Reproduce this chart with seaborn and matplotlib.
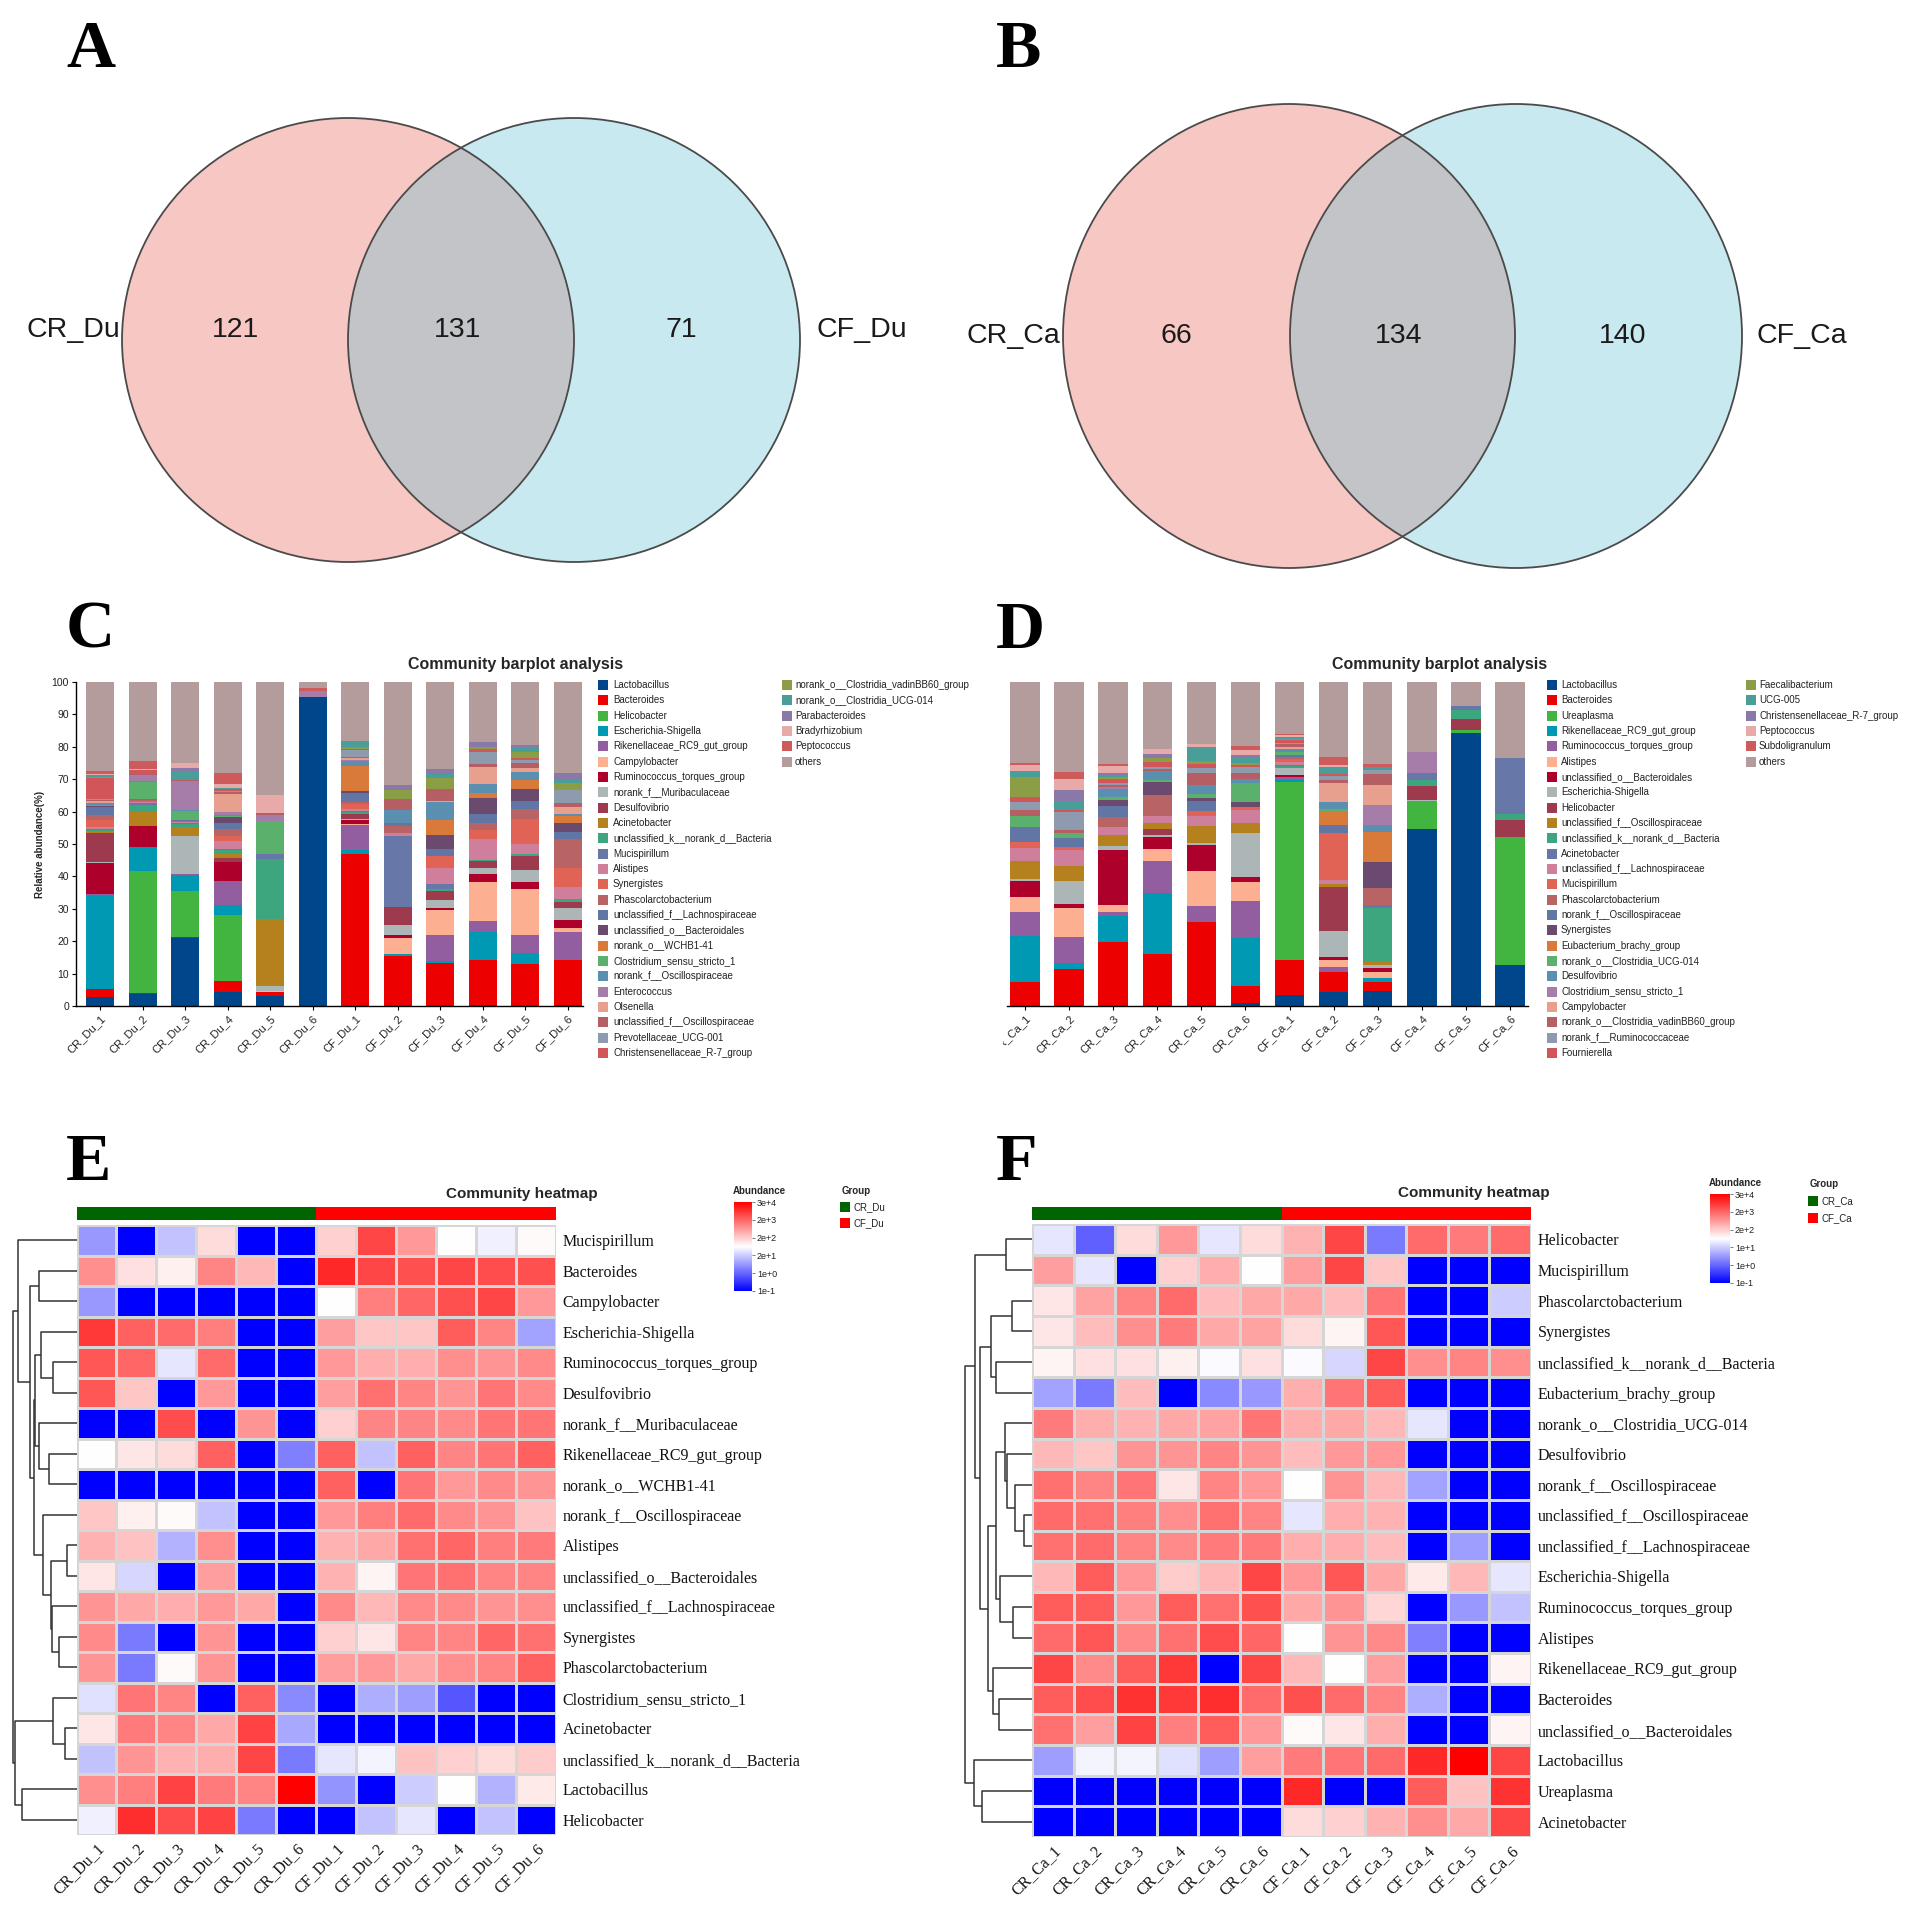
import numpy as np
import pandas as pd
import matplotlib
matplotlib.use("Agg")
import matplotlib.pyplot as plt
import seaborn as sns
from matplotlib.patches import Ellipse, Rectangle
from matplotlib.colors import LinearSegmentedColormap, ListedColormap
from matplotlib.transforms import Bbox, TransformedBbox

# ---------------------------------------------------------------- data
venn_A_sets = ["CR_Du", "CF_Du"]
venn_A_counts = [121, 131, 71]
venn_B_sets = ["CR_Ca", "CF_Ca"]
venn_B_counts = [66, 134, 140]

C_taxa = ["Lactobacillus", "Bacteroides", "Helicobacter", "Escherichia-Shigella",
          "Rikenellaceae_RC9_gut_group", "Campylobacter", "Ruminococcus_torques_group",
          "norank_f__Muribaculaceae", "Desulfovibrio", "Acinetobacter",
          "unclassified_k__norank_d__Bacteria", "Mucispirillum", "Alistipes", "Synergistes",
          "Phascolarctobacterium", "unclassified_f__Lachnospiraceae",
          "unclassified_o__Bacteroidales", "norank_o__WCHB1-41", "Clostridium_sensu_stricto_1",
          "norank_f__Oscillospiraceae", "Enterococcus", "Olsenella",
          "unclassified_f__Oscillospiraceae", "Prevotellaceae_UCG-001",
          "Christensenellaceae_R-7_group", "norank_o__Clostridia_vadinBB60_group",
          "norank_o__Clostridia_UCG-014", "Parabacteroides", "Bradyrhizobium", "Peptococcus",
          "others"]
C_samples = ["CR_Du_1", "CR_Du_2", "CR_Du_3", "CR_Du_4", "CR_Du_5", "CR_Du_6",
             "CF_Du_1", "CF_Du_2", "CF_Du_3", "CF_Du_4", "CF_Du_5", "CF_Du_6"]
C_values = [
    [2.9, 2.5, 0, 28.8, 0.3, 0.2, 9.5, 0.2, 9.0, 0.5, 0.3, 0.3, 0.8, 2.0, 1.5, 2.5, 0.3, 0.2, 0.3, 0.5, 0.2, 0.5, 0.3, 0.3, 6.6, 0.2, 0.4, 0.2, 0.3, 1.0, 27.4],
    [3.8, 0.3, 37.5, 7.6, 0, 0, 6.3, 0, 0, 4.3, 2.2, 0.8, 0.3, 0.2, 0.2, 0.3, 0, 0, 5.3, 0.2, 2.0, 0, 0.3, 0, 1.2, 0, 0, 0, 0.5, 2.2, 24.5],
    [21.0, 0.3, 14.2, 4.8, 0.5, 0, 0, 11.6, 0, 2.9, 1.0, 0.3, 0.3, 0, 0.2, 0.2, 0, 0, 3.0, 0.3, 8.8, 0, 0.5, 0, 0, 0, 2.3, 1.2, 1.5, 0, 25.1],
    [4.2, 3.5, 20.3, 3.3, 7.2, 0, 5.8, 0, 1.5, 1.2, 1.0, 0.5, 2.3, 1.7, 2.0, 2.0, 1.7, 0, 0.3, 0.3, 1.0, 5.6, 0.6, 0.3, 0.7, 0, 0.3, 0, 1.3, 3.2, 28.2],
    [3.2, 1.0, 0, 0, 0, 0.3, 0, 1.7, 0, 20.5, 18.8, 1.3, 0, 0, 0, 0, 0, 0, 10.2, 0, 2.0, 0, 0.5, 0, 0, 0, 0, 0, 5.7, 0, 34.8],
    [95.3, 0, 0, 0, 0, 0, 0, 0, 0, 0, 0, 0, 0, 0, 0, 0, 0, 0, 0, 0, 2.0, 0, 0, 0, 0, 0, 0, 0, 0, 0.9, 1.8],
    [0, 47.0, 0, 1.3, 7.5, 0.3, 1.4, 0.3, 1.5, 0, 0.5, 0.5, 0.5, 1.5, 0.7, 2.8, 0.5, 7.7, 0, 1.5, 0.5, 0.5, 0.5, 2.0, 0.3, 0.7, 1.7, 0, 0, 0, 18.3],
    [0, 15.5, 0, 0.7, 0, 4.8, 1.0, 3.0, 5.5, 0, 0, 22.0, 1.0, 0, 2.0, 1.0, 0, 0, 0, 4.0, 0, 0, 3.3, 0, 0, 3.0, 0, 1.5, 0, 0, 31.7],
    [0, 13.3, 0, 0.5, 8.2, 7.5, 0.8, 2.4, 2.8, 0, 0.5, 1.8, 4.9, 3.6, 0, 2.2, 4.3, 4.5, 0, 5.7, 0, 0.3, 3.7, 0, 0, 3.5, 1.0, 1.5, 0, 0, 27.0],
    [0.3, 14.0, 0, 8.5, 3.4, 12.0, 2.6, 1.9, 1.9, 0, 0.6, 0, 6.4, 2.6, 2.2, 2.8, 5.0, 1.6, 0, 2.6, 0, 5.4, 0.9, 3.7, 1.0, 0.6, 0, 1.5, 0, 0, 18.5],
    [0, 13.0, 0, 3.5, 5.3, 14.4, 2.0, 3.8, 4.4, 0, 0.6, 0, 3.0, 7.8, 3.0, 2.5, 3.7, 2.8, 0, 2.4, 0, 1.3, 1.5, 1.0, 0.5, 1.8, 1.7, 0.5, 0, 0, 19.5],
    [0.4, 13.8, 0, 0, 8.6, 1.2, 2.6, 3.6, 2.0, 0, 0.8, 0, 3.6, 6.0, 9.0, 2.2, 2.6, 2.1, 0, 0.8, 0, 2.0, 1.5, 4.0, 0, 2.0, 1.4, 1.6, 0, 0, 28.2],
]

D_taxa = ["Lactobacillus", "Bacteroides", "Ureaplasma", "Rikenellaceae_RC9_gut_group",
          "Ruminococcus_torques_group", "Alistipes", "unclassified_o__Bacteroidales",
          "Escherichia-Shigella", "Helicobacter", "unclassified_f__Oscillospiraceae",
          "unclassified_k__norank_d__Bacteria", "Acinetobacter",
          "unclassified_f__Lachnospiraceae", "Mucispirillum", "Phascolarctobacterium",
          "norank_f__Oscillospiraceae", "Synergistes", "Eubacterium_brachy_group",
          "norank_o__Clostridia_UCG-014", "Desulfovibrio", "Clostridium_sensu_stricto_1",
          "Campylobacter", "norank_o__Clostridia_vadinBB60_group", "norank_f__Ruminococcaceae",
          "Fournierella", "Faecalibacterium", "UCG-005", "Christensenellaceae_R-7_group",
          "Peptococcus", "Subdoligranulum", "others"]
D_samples = ["CR_Ca_1", "CR_Ca_2", "CR_Ca_3", "CR_Ca_4", "CR_Ca_5", "CR_Ca_6",
             "CF_Ca_1", "CF_Ca_2", "CF_Ca_3", "CF_Ca_4", "CF_Ca_5", "CF_Ca_6"]
D_values = [
    [0, 7.5, 0, 14.1, 7.5, 4.6, 4.8, 0.8, 0, 5.4, 0, 0, 4.2, 1.8, 0, 4.4, 0, 0, 3.6, 0, 0, 0, 1.9, 2.4, 1.5, 6.2, 1.9, 0, 1.9, 0.6, 24.9],
    [0, 11.3, 0, 2.1, 7.8, 8.9, 1.3, 7.1, 0, 4.8, 0, 0, 5.0, 0.8, 0, 2.6, 0.3, 0, 1.4, 0, 0, 0, 0.9, 5.6, 0.7, 0, 2.4, 3.8, 3.4, 2.1, 27.7],
    [0, 19.6, 0, 8.3, 1.2, 2.2, 16.8, 1.3, 0, 3.5, 0, 0, 2.4, 0, 3.1, 3.4, 1.7, 0.5, 0.5, 2.6, 0.6, 0, 0.5, 0.5, 1.5, 0.4, 0.8, 0.5, 2.1, 0.8, 25.2],
    [0, 15.9, 0, 19.1, 9.8, 3.8, 3.6, 0.7, 1.6, 2.0, 0, 0, 2.1, 0, 6.5, 0, 3.9, 0, 0.6, 2.9, 0, 0, 0.7, 0.7, 1.5, 1.0, 0.5, 1.0, 1.5, 0, 20.6],
    [0, 26.0, 0, 0, 4.8, 10.9, 7.9, 0.8, 0, 5.1, 0, 0, 3.1, 1.5, 0, 3.1, 1.0, 0, 1.1, 3.0, 0, 0, 3.6, 1.7, 1.2, 0.8, 4.4, 0, 0.8, 0, 19.2],
    [1.0, 5.3, 0, 14.8, 11.4, 5.7, 1.5, 13.7, 0, 3.1, 0, 0, 3.9, 1.1, 0, 0, 1.5, 0, 5.7, 1.5, 0, 0, 1.7, 1.9, 0.6, 0.6, 1.5, 1.0, 1.5, 1.1, 19.9],
    [3.4, 10.8, 54.8, 0.7, 1.0, 0, 0.7, 2.1, 0, 0, 0.5, 0.5, 0.7, 1.0, 0.8, 0.5, 0, 0, 1.0, 0.8, 0, 0.5, 1.0, 0.5, 0.7, 0.5, 0.6, 0, 0.5, 0.4, 16.0],
    [4.4, 6.2, 0, 0, 1.5, 2.1, 0.8, 8.1, 13.7, 1.0, 0, 0, 1.0, 14.6, 0, 2.4, 0, 4.3, 0.8, 2.1, 0, 5.7, 1.0, 1.2, 0.8, 0, 2.1, 0, 0.5, 2.6, 23.1],
    [4.7, 2.6, 0, 1.2, 0, 2.1, 1.0, 1.0, 0, 1.1, 16.4, 1.0, 0, 0, 5.2, 0, 8.2, 9.3, 0, 2.0, 6.2, 6.1, 3.6, 1.1, 0, 0, 1.0, 0, 0, 0.8, 25.4],
    [54.5, 0, 8.8, 0, 0, 0, 0, 0.4, 4.1, 0, 2.1, 2.0, 0, 0, 0, 0, 0, 0, 0, 0, 6.5, 0, 0, 0, 0, 0, 0, 0, 0, 0, 21.6],
    [84.3, 0, 1.0, 0, 0, 0, 0, 0, 3.4, 0, 2.8, 1.0, 0, 0, 0, 0, 0, 0, 0, 0, 0, 0, 0, 0, 0, 0, 0, 0, 0, 0, 7.5],
    [12.6, 0, 39.6, 0, 0, 0, 0, 0, 5.1, 0, 1.9, 17.2, 0, 0, 0, 0, 0, 0, 0, 0, 0, 0, 0, 0, 0, 0, 0, 0, 0, 0, 23.6],
]

# heatmap colour level (0 = 1e-1 ... 5 = 3e+4, evenly spaced colour-bar ticks)
abund_ticks = ["1e-1", "1e+0", "2e+1", "2e+2", "2e+3", "3e+4"]
abund_ticks_F = ["1e-1", "1e+0", "1e+1", "2e+2", "2e+3", "3e+4"]

E_rows = ["Mucispirillum", "Bacteroides", "Campylobacter", "Escherichia-Shigella",
          "Ruminococcus_torques_group", "Desulfovibrio", "norank_f__Muribaculaceae",
          "Rikenellaceae_RC9_gut_group", "norank_o__WCHB1-41", "norank_f__Oscillospiraceae",
          "Alistipes", "unclassified_o__Bacteroidales", "unclassified_f__Lachnospiraceae",
          "Synergistes", "Phascolarctobacterium", "Clostridium_sensu_stricto_1",
          "Acinetobacter", "unclassified_k__norank_d__Bacteria", "Lactobacillus", "Helicobacter"]
E_values = [
    [1.5, 0, 1.9, 2.85, 0, 0, 2.95, 4.3, 3.5, 2.5, 2.35, 2.55],
    [3.6, 2.8, 2.65, 3.7, 3.2, 0, 4.6, 4.3, 4.2, 4.3, 4.25, 4.2],
    [1.5, 0, 0, 0, 0, 0, 2.5, 3.75, 4.0, 4.2, 4.3, 3.5],
    [4.45, 4.05, 3.95, 3.75, 0, 0, 3.45, 3.05, 3.05, 4.1, 3.7, 1.6],
    [4.15, 4.0, 2.25, 3.95, 0, 0, 3.5, 3.3, 3.3, 3.6, 3.55, 3.65],
    [4.15, 3.05, 0, 3.5, 0, 0, 3.45, 3.9, 3.7, 3.55, 3.85, 3.65],
    [0, 0, 4.25, 0, 3.55, 0, 2.95, 3.7, 3.7, 3.65, 3.85, 3.85],
    [2.5, 2.75, 2.85, 4.05, 0, 1.25, 4.05, 1.9, 4.05, 3.7, 3.85, 4.05],
    [0, 0, 0, 0, 0, 0, 4.05, 0, 3.85, 3.5, 3.65, 3.55],
    [3.05, 2.65, 2.55, 1.9, 0, 0, 3.5, 3.75, 3.95, 3.65, 3.55, 3.1],
    [3.25, 3.1, 1.75, 3.6, 0, 0, 3.25, 3.35, 3.9, 4.0, 3.75, 3.8],
    [2.75, 2.1, 0, 3.45, 0, 0, 3.25, 2.6, 3.85, 3.9, 3.7, 3.7],
    [3.55, 3.35, 3.3, 3.5, 3.35, 0, 3.65, 3.2, 3.65, 3.65, 3.55, 3.6],
    [3.65, 1.2, 0, 3.55, 0, 0, 2.95, 2.75, 3.7, 3.7, 4.0, 3.9],
    [3.55, 1.2, 2.55, 3.55, 0, 0, 3.45, 3.5, 3.35, 3.6, 3.7, 4.05],
    [2.2, 3.85, 3.7, 0, 4.05, 1.35, 0, 1.7, 1.55, 0.85, 0, 0],
    [2.75, 3.8, 3.7, 3.35, 4.35, 1.65, 0, 0, 0, 0, 0, 0],
    [1.9, 3.55, 3.25, 3.3, 4.3, 1.2, 2.25, 2.4, 3.1, 2.95, 2.85, 3.0],
    [3.6, 3.75, 4.35, 3.8, 3.7, 5.0, 1.45, 0, 2.0, 2.5, 1.75, 2.7],
    [2.35, 4.55, 4.25, 4.35, 1.2, 0, 0, 1.9, 2.25, 0, 1.9, 0],
]
F_rows = ["Helicobacter", "Mucispirillum", "Phascolarctobacterium", "Synergistes",
          "unclassified_k__norank_d__Bacteria", "Eubacterium_brachy_group",
          "norank_o__Clostridia_UCG-014", "Desulfovibrio", "norank_f__Oscillospiraceae",
          "unclassified_f__Oscillospiraceae", "unclassified_f__Lachnospiraceae",
          "Escherichia-Shigella", "Ruminococcus_torques_group", "Alistipes",
          "Rikenellaceae_RC9_gut_group", "Bacteroides", "unclassified_o__Bacteroidales",
          "Lactobacillus", "Ureaplasma", "Acinetobacter"]
F_values = [
    [2.25, 0.95, 2.85, 3.5, 2.25, 2.85, 3.25, 4.3, 1.2, 3.95, 3.8, 3.95],
    [3.45, 2.25, 0, 2.95, 3.3, 2.5, 3.45, 4.3, 3.05, 0, 0, 0],
    [2.75, 3.4, 3.7, 3.95, 3.15, 3.35, 3.35, 3.15, 3.85, 0, 0, 2.0],
    [2.75, 3.15, 3.6, 3.8, 3.35, 3.4, 2.85, 2.6, 4.15, 0, 0, 0],
    [2.6, 2.8, 2.8, 2.65, 2.45, 2.8, 2.45, 2.1, 4.3, 3.6, 3.7, 3.6],
    [1.6, 1.2, 3.15, 0, 1.35, 1.5, 3.3, 3.85, 4.1, 0, 0, 0],
    [3.8, 3.3, 3.25, 3.35, 3.4, 3.85, 3.3, 3.35, 3.2, 2.25, 0, 0],
    [3.2, 3.05, 3.55, 3.55, 3.7, 3.55, 3.15, 3.5, 3.5, 0, 0, 0],
    [3.9, 3.7, 3.85, 2.75, 3.7, 3.5, 2.5, 3.55, 3.2, 1.6, 0, 0],
    [3.95, 3.9, 3.75, 3.6, 3.9, 3.7, 2.25, 3.3, 3.25, 0, 0, 0],
    [3.9, 3.95, 3.7, 3.65, 3.8, 3.8, 3.3, 3.3, 3.15, 0, 1.55, 0],
    [3.2, 4.1, 3.5, 3.0, 3.2, 4.3, 3.5, 4.15, 3.35, 2.7, 3.2, 2.25],
    [4.1, 4.1, 3.5, 4.1, 3.9, 4.2, 3.35, 3.55, 2.9, 0, 1.5, 1.9],
    [3.95, 4.15, 3.65, 3.9, 4.25, 4.0, 2.5, 3.55, 3.65, 1.25, 0, 0],
    [4.3, 3.65, 4.1, 4.45, 0, 4.3, 3.2, 2.5, 3.45, 0, 0, 2.6],
    [4.1, 4.25, 4.5, 4.45, 4.55, 3.95, 4.2, 3.95, 3.7, 1.7, 0, 0],
    [3.9, 3.45, 4.35, 3.75, 4.1, 3.5, 2.55, 2.75, 3.3, 0, 0, 2.6],
    [1.55, 2.4, 2.4, 2.2, 1.55, 3.45, 3.8, 3.85, 3.95, 4.6, 5.0, 4.3],
    [0, 0, 0, 0, 0, 0, 4.6, 0, 0, 4.1, 3.1, 4.5],
    [0, 0, 0, 0, 0, 0, 2.85, 2.95, 3.25, 3.6, 3.35, 4.3],
]

# row dendrograms: (merge height, left, right); leaves are row indices
E_tree = (192,
          (175, 0, (140, (112, 1, 2),
                    (127, (125, (108, 3, (72, 4, 5)), (112, 6, (82, 7, 8))),
                          (100, 9, (78, (30, 10, 11), (75, 12, (52, 13, 14))))))),
          (185, (70, 15, (35, 16, 17)), (165, 18, 19)))
F_tree = (200,
          (170, (78, 0, 1),
                (155, (123, (60, 2, 3), (107, 4, 5)),
                      (130, (108, (80, 6, (75, 7, (52, 8, (25, 9, 10)))),
                                  (95, 11, (58, 12, 13))),
                            (115, 14, (100, 15, 16))))),
          (172, 17, (148, 18, 19)))

# ---------------------------------------------------------------- style
bar_palette = ["#00468B", "#ED0000", "#42B540", "#0099B4", "#925E9F", "#FDAF91", "#AD002A",
               "#ADB6B6", "#9E3A4E", "#B5811F", "#3DA67E", "#6677A8", "#CF7F9B", "#E06356",
               "#B86464", "#6276A6", "#6A4A6E", "#D97A3A", "#5BB06C", "#5A8FB0", "#A57DA8",
               "#E8A08E", "#B55E64", "#8E9AAE", "#D2555A", "#8C9E45", "#4A9E9A", "#8A78A8",
               "#E8AAA8", "#CD5B5B", "#B49C9C"]
for v in C_values + D_values:
    assert len(v) == 31

sns.set_theme(style="white")
plt.rcParams["font.family"] = ["Liberation Sans", "DejaVu Sans"]
SERIF = ["Liberation Serif", "DejaVu Serif"]
NARROW = ["Liberation Sans Narrow", "Liberation Sans", "DejaVu Sans"]

W, H = 1914, 1916
fig = plt.figure(figsize=(W / 100, H / 100), dpi=100)


def px_axes(x0, y0, x1, y1, **kw):
    return fig.add_axes([x0 / W, 1 - y1 / H, (x1 - x0) / W, (y1 - y0) / H], **kw)


# overlay in pixel coordinates for letters, venn, legends
ov = px_axes(0, 0, W, H)
ov.set_xlim(0, W)
ov.set_ylim(H, 0)
ov.axis("off")
ov.set_zorder(5)

for letter, (lx, ly) in zip("ABCDEF", [(66, 67), (996, 67), (66, 648), (996, 648),
                                        (66, 1180), (996, 1180)]):
    ov.text(lx, ly, letter, fontsize=49, fontweight="bold", family=SERIF,
            ha="left", va="baseline", color="black")


# ---------------------------------------------------------------- venn
def venn(cx1, cx2, cy, w, h, sets, counts, xs_text, ty):
    e1 = Ellipse((cx1, cy), w, h, facecolor="#F6C7C3", edgecolor="none")
    e2 = Ellipse((cx2, cy), w, h, facecolor="#C8E9F0", edgecolor="none")
    ov.add_patch(e1)
    ov.add_patch(e2)
    e3 = Ellipse((cx2, cy), w, h, facecolor="#C3C4C8", edgecolor="none")
    ov.add_patch(e3)
    e3.set_clip_path(e1)
    for cx in (cx1, cx2):
        ov.add_patch(Ellipse((cx, cy), w, h, fill=False, edgecolor="#4A4A4A", lw=1.3))
    labels = [sets[0]] + [str(c) for c in counts] + [sets[1]]
    aligns = ["right", "center", "center", "center", "left"]
    for x, t, a in zip(xs_text, labels, aligns):
        ov.text(x, ty, t, fontsize=20.5, family=NARROW, ha=a, va="center",
                color="#1A1A1A")


venn(348, 574, 340, 452, 444, venn_A_sets, venn_A_counts, [120, 235, 458, 681, 816], 330)
venn(1289, 1516, 336, 452, 464, venn_B_sets, venn_B_counts, [1060, 1176, 1399, 1623, 1757], 336)


# ---------------------------------------------------------------- barplots
def stacked(ax, samples, values, width):
    cum = np.cumsum(np.array(values, dtype=float), axis=1)
    for k in range(cum.shape[1] - 1, -1, -1):
        sns.barplot(x=samples, y=cum[:, k], order=samples, color=bar_palette[k],
                    saturation=1, width=width, errorbar=None, linewidth=0,
                    edgecolor="none", ax=ax)
    ax.set_ylim(0, 100)
    ax.set_xticks(range(len(samples)))
    ax.set_xticklabels(samples, rotation=45, ha="right", rotation_mode="anchor",
                       fontsize=8, color="#222222")
    ax.set_facecolor("none")
    ax.tick_params(axis="x", bottom=True, length=3, width=0.8, color="black", pad=2)
    for s in ("top", "right"):
        ax.spines[s].set_visible(False)
    ax.spines["bottom"].set_color("black")
    ax.spines["bottom"].set_linewidth(1.0)


axC = px_axes(76, 682, 583, 1006)
stacked(axC, C_samples, C_values, 0.66)
axC.set_xlim(-0.565, 11.36)
axC.set_yticks(range(0, 101, 10))
axC.tick_params(axis="y", left=True, length=3, width=0.8, color="black", labelsize=7.5,
                labelcolor="#222222", pad=2)
axC.spines["left"].set_color("black")
axC.spines["left"].set_linewidth(1.0)
axC.set_ylabel("Relative abundance(%)", fontsize=7, fontweight="bold", labelpad=5)

axD = px_axes(1007, 682, 1528, 1006)
stacked(axD, D_samples, D_values, 0.67)
axD.set_xlim(-0.41, 11.41)
axD.spines["left"].set_visible(False)
axD.set_yticks([])
axD.set_ylabel("")
clipbox = TransformedBbox(Bbox([[1003 / W, 0], [1, 1]]), fig.transFigure)
for t in axD.get_xticklabels():
    t.set_clip_on(True)
    t.set_clip_box(clipbox)

ov.text(408, 665, "Community barplot analysis", fontsize=11.5, fontweight="bold",
        ha="left", va="center")
ov.text(1332, 665, "Community barplot analysis", fontsize=11.5, fontweight="bold",
        ha="left", va="center")


def bar_legend(taxa, cols, y0, pitch, per_col=25):
    for i, name in enumerate(taxa):
        c = i // per_col
        r = i % per_col
        sx, tx = cols[c]
        y = y0 + r * pitch
        ov.add_patch(Rectangle((sx, y - 5), 10, 10, facecolor=bar_palette[i], edgecolor="none"))
        ov.text(tx, y, name, fontsize=7, ha="left", va="center", color="#222222")


bar_legend(C_taxa, [(598, 613), (782, 795)], 685, 15.33)
bar_legend(D_taxa, [(1547, 1561), (1746, 1759)], 685, 15.33)

# ---------------------------------------------------------------- heatmaps
heat_cmap = LinearSegmentedColormap.from_list("bwr_pure", ["#0000FF", "#FFFFFF", "#FF0000"])
group_cmap = ListedColormap(["#006400", "#FF0000"])


def dendro(ax, tree, nrows):
    def rec(node):
        if isinstance(node, int):
            return node + 0.5, 0.0
        h, a, b = node
        ya, ha = rec(a)
        yb, hb = rec(b)
        ax.plot([ha, h, h, hb], [ya, ya, yb, yb], color="#333333", lw=1.1,
                solid_capstyle="butt", clip_on=False)
        return (ya + yb) / 2, h
    rec(tree)
    ax.set_ylim(nrows, 0)
    ax.set_xlim(230, 0)
    ax.axis("off")


def heat_panel(box, gbox, dbox, cbox, rows, samples, values, tree, ticks):
    ax = px_axes(*box)
    df = pd.DataFrame(values, index=rows, columns=samples)
    cax = px_axes(*cbox)
    sns.heatmap(df, ax=ax, cmap=heat_cmap, vmin=0, vmax=5, linewidths=1.0,
                linecolor="#D6D6D6", cbar=True, cbar_ax=cax,
                cbar_kws={"ticks": [0, 1, 2, 3, 4, 5]},
                xticklabels=samples, yticklabels=rows)
    ax.yaxis.tick_right()
    ax.set_yticklabels(rows, rotation=0, fontsize=11.5, family=SERIF, color="#111111")
    ax.set_xticklabels(samples, rotation=45, ha="right", rotation_mode="anchor",
                       fontsize=11.5, family=SERIF, color="#111111")
    ax.tick_params(axis="y", length=0, pad=5)
    ax.tick_params(axis="x", length=0, pad=4)
    ax.set_xlabel("")
    ax.set_ylabel("")
    cb = ax.collections[0].colorbar
    cb.set_ticklabels(ticks)
    cb.outline.set_visible(False)
    cax.tick_params(labelsize=6.5, length=2, width=0.6, color="#666666", pad=1.5,
                    labelcolor="#222222", right=True)
    # group bar
    gax = px_axes(*gbox)
    codes = [[0 if s.startswith("CR") else 1 for s in samples]]
    sns.heatmap(codes, ax=gax, cmap=group_cmap, vmin=0, vmax=1, cbar=False,
                xticklabels=False, yticklabels=False)
    # dendrogram
    dax = px_axes(*dbox)
    dendro(dax, tree, len(rows))


heat_panel((76.5, 1225, 555.7, 1835), (76.5, 1207, 555.7, 1220), (0, 1225, 76.5, 1835),
           (734, 1202, 752, 1291), E_rows, C_samples, E_values, E_tree, abund_ticks)
heat_panel((1032, 1224, 1531, 1837), (1032, 1207, 1531, 1220), (955, 1224, 1032, 1837),
           (1710, 1194, 1730, 1283), F_rows, D_samples, F_values, F_tree, abund_ticks_F)

ov.text(446, 1194, "Community heatmap", fontsize=11, fontweight="bold", ha="left", va="center")
ov.text(1398, 1193, "Community heatmap", fontsize=11, fontweight="bold", ha="left", va="center")
ov.text(759, 1191, "Abundance", fontsize=7, fontweight="bold", ha="center", va="center")
ov.text(1735, 1183, "Abundance", fontsize=7, fontweight="bold", ha="center", va="center")


def group_legend(x, ytitle, ys, names):
    ov.text(x + 2, ytitle, "Group", fontsize=7, fontweight="bold", ha="left", va="center")
    for y, n, c in zip(ys, names, ["#006400", "#FF0000"]):
        ov.add_patch(Rectangle((x, y - 5), 10, 10, facecolor=c, edgecolor="none"))
        ov.text(x + 13, y, n, fontsize=7, ha="left", va="center", color="#222222")


group_legend(840, 1191, [1207, 1223], ["CR_Du", "CF_Du"])
group_legend(1808, 1184, [1201, 1218], ["CR_Ca", "CF_Ca"])

fig.savefig("out.png", dpi=100)
